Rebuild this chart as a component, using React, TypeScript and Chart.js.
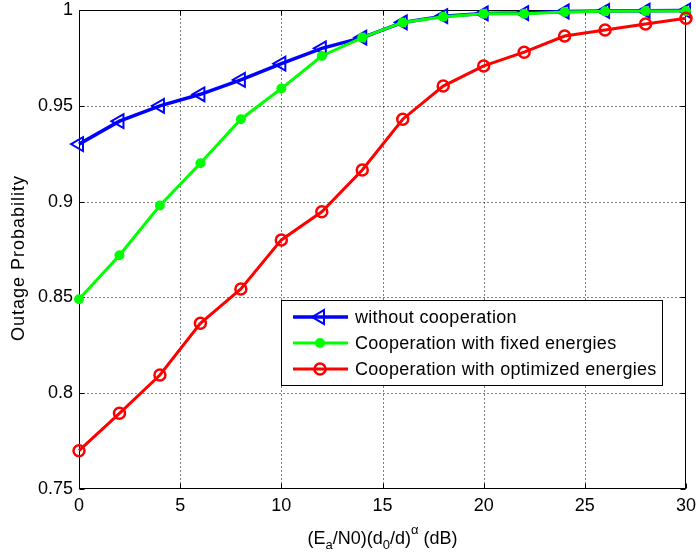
import React, { useEffect, useRef } from 'react';
import { Chart, registerables } from 'chart.js';

Chart.register(...registerables);

const snrDb = [0, 2, 4, 6, 8, 10, 12, 14, 16, 18, 20, 22, 24, 26, 28, 30];
const withoutCoop = [0.930, 0.942, 0.950, 0.956, 0.9635, 0.972, 0.980, 0.9856, 0.9935, 0.9968, 0.9982, 0.9984, 0.9992, 0.9995, 0.9996, 0.9997];
const coopFixed = [0.849, 0.872, 0.898, 0.920, 0.943, 0.959, 0.976, 0.9856, 0.9935, 0.9965, 0.998, 0.998, 0.999, 0.9993, 0.9995, 0.9995];
const coopOptimized = [0.770, 0.7895, 0.8095, 0.8365, 0.8544, 0.880, 0.8947, 0.9165, 0.943, 0.9603, 0.9708, 0.978, 0.9864, 0.9896, 0.9927, 0.9957];
const xTicks = [0, 5, 10, 15, 20, 25, 30];
const yTicks = [0.75, 0.8, 0.85, 0.9, 0.95, 1];
const seriesNames = ['without cooperation', 'Cooperation with fixed energies', 'Cooperation with optimized energies'];
const yTitle = 'Outage Probability';

const FONT = '"Liberation Sans", Arial, Helvetica, sans-serif';
const BLUE = '#0000ff';
const GREEN = '#00ff00';
const RED = '#ff0000';

function toPts(ys: number[]) {
  return ys.map((v, i) => ({ x: snrDb[i], y: v }));
}

const framePlugin = {
  id: 'matlabFrame',
  beforeDatasetsDraw(chart: any) {
    const { ctx, chartArea, scales } = chart;
    const { left, right, top, bottom } = chartArea;
    const xs = scales.x, ys = scales.y;
    const L = Math.round(left) + 0.5, R = Math.round(right) - 0.5;
    const T = Math.round(top) + 0.5, B = Math.round(bottom) - 0.5;
    ctx.save();
    ctx.strokeStyle = '#000';
    ctx.lineWidth = 1;
    ctx.setLineDash([1, 3]);
    xTicks.forEach((v) => {
      if (v === xTicks[0] || v === xTicks[xTicks.length - 1]) return;
      const px = Math.round(xs.getPixelForValue(v)) + 0.5;
      ctx.beginPath(); ctx.moveTo(px, T); ctx.lineTo(px, B); ctx.stroke();
    });
    yTicks.forEach((v) => {
      if (v === yTicks[0] || v === yTicks[yTicks.length - 1]) return;
      const py = Math.round(ys.getPixelForValue(v)) + 0.5;
      ctx.beginPath(); ctx.moveTo(L, py); ctx.lineTo(R, py); ctx.stroke();
    });
    ctx.setLineDash([]);
    const tl = 5;
    xTicks.forEach((v) => {
      const px = Math.round(xs.getPixelForValue(v)) + 0.5;
      ctx.beginPath(); ctx.moveTo(px, B); ctx.lineTo(px, B - tl); ctx.stroke();
      ctx.beginPath(); ctx.moveTo(px, T); ctx.lineTo(px, T + tl); ctx.stroke();
    });
    yTicks.forEach((v) => {
      const py = Math.round(ys.getPixelForValue(v)) + 0.5;
      ctx.beginPath(); ctx.moveTo(L, py); ctx.lineTo(L + tl, py); ctx.stroke();
      ctx.beginPath(); ctx.moveTo(R, py); ctx.lineTo(R - tl, py); ctx.stroke();
    });
    ctx.strokeRect(L, T, R - L, B - T);
    ctx.restore();
  },
};

function drawTri(ctx: CanvasRenderingContext2D, x: number, y: number, r: number) {
  ctx.beginPath();
  for (let k = 0; k < 3; k++) {
    const a = -Math.PI / 2 + k * (2 * Math.PI / 3);
    const px = x + Math.sin(a) * r;
    const py = y - Math.cos(a) * r;
    if (k === 0) ctx.moveTo(px, py); else ctx.lineTo(px, py);
  }
  ctx.closePath();
}

const textPlugin = {
  id: 'texts',
  afterDraw(chart: any) {
    const { ctx, chartArea } = chart;
    ctx.save();
    // Legend
    const bx = 281, by = 300, bw = 381, bh = 85;
    ctx.fillStyle = '#fff';
    ctx.fillRect(bx, by, bw, bh);
    ctx.strokeStyle = '#000';
    ctx.lineWidth = 1;
    ctx.strokeRect(bx + 0.5, by + 0.5, bw, bh);
    const rows = [317, 343, 369];
    const colors = [BLUE, GREEN, RED];
    rows.forEach((ry, i) => {
      ctx.strokeStyle = colors[i];
      ctx.lineWidth = i === 0 ? 3.5 : 3;
      ctx.beginPath(); ctx.moveTo(293, ry); ctx.lineTo(348, ry); ctx.stroke();
      if (i === 0) {
        ctx.lineWidth = 2;
        drawTri(ctx, 320, ry, 8);
        ctx.stroke();
      } else if (i === 1) {
        ctx.fillStyle = GREEN;
        ctx.beginPath(); ctx.arc(320, ry, 5, 0, Math.PI * 2); ctx.fill();
      } else {
        ctx.lineWidth = 2.5;
        ctx.beginPath(); ctx.arc(320, ry, 5.5, 0, Math.PI * 2); ctx.stroke();
      }
      ctx.fillStyle = '#000';
      ctx.font = `18px ${FONT}`;
      (ctx as any).letterSpacing = '0.3px';
      ctx.textBaseline = 'middle';
      ctx.textAlign = 'left';
      ctx.fillText(seriesNames[i], 355, ry + 1);
      (ctx as any).letterSpacing = '0px';
    });

    // Y title
    ctx.save();
    ctx.translate(24, 258);
    ctx.rotate(-Math.PI / 2);
    ctx.font = `18px ${FONT}`;
    (ctx as any).letterSpacing = '1px';
    ctx.fillStyle = '#000';
    ctx.textAlign = 'center';
    ctx.textBaseline = 'alphabetic';
    ctx.fillText(yTitle, 0, 0);
    (ctx as any).letterSpacing = '0px';
    ctx.restore();

    // X title with sub/superscripts
    const parts: [string, number][] = [
      ['(E', 0], ['a', 1], ['/N0)(d', 0], ['0', 1], ['/d)', 0], ['\u03B1', -1], [' (dB)', 0],
    ];
    const fontFor = (k: number) => (k === 0 ? `18px ${FONT}` : `13px ${FONT}`);
    let total = 0;
    parts.forEach(([s, k]) => { ctx.font = fontFor(k); total += ctx.measureText(s).width; });
    let cx = (chartArea.left + chartArea.right) / 2 - total / 2;
    const base = 544;
    ctx.textAlign = 'left';
    ctx.textBaseline = 'alphabetic';
    ctx.fillStyle = '#000';
    parts.forEach(([s, k]) => {
      ctx.font = fontFor(k);
      const dy = k === 1 ? 5 : k === -1 ? -10 : 0;
      ctx.fillText(s, cx, base + dy);
      cx += ctx.measureText(s).width;
    });
    ctx.restore();
  },
};

export default function App() {
  const ref = useRef<HTMLCanvasElement | null>(null);
  useEffect(() => {
    document.body.style.margin = '0';
    const canvas = ref.current!;
    const chart = new Chart(canvas, {
      type: 'line',
      data: {
        datasets: [
          {
            label: seriesNames[0],
            data: toPts(withoutCoop),
            borderColor: BLUE,
            borderWidth: 3.5,
            pointStyle: 'triangle',
            pointRotation: -90,
            pointRadius: 8,
            pointBorderWidth: 2,
            pointBorderColor: BLUE,
            pointBackgroundColor: 'rgba(0,0,0,0)',
            fill: false,
            tension: 0,
            clip: false,
            order: 3,
          } as any,
          {
            label: seriesNames[1],
            data: toPts(coopFixed),
            borderColor: GREEN,
            borderWidth: 3,
            pointStyle: 'circle',
            pointRadius: 5,
            pointBorderWidth: 0,
            pointBackgroundColor: GREEN,
            fill: false,
            tension: 0,
            clip: false,
            order: 2,
          } as any,
          {
            label: seriesNames[2],
            data: toPts(coopOptimized),
            borderColor: RED,
            borderWidth: 3,
            pointStyle: 'circle',
            pointRadius: 5.5,
            pointBorderWidth: 2.5,
            pointBorderColor: RED,
            pointBackgroundColor: 'rgba(0,0,0,0)',
            fill: false,
            tension: 0,
            clip: false,
            order: 1,
          } as any,
        ],
      },
      options: {
        animation: false,
        responsive: false,
        devicePixelRatio: 1,
        layout: { padding: { top: 10, right: 9, left: 0, bottom: 0 } },
        plugins: { legend: { display: false }, tooltip: { enabled: false } },
        scales: {
          x: {
            type: 'linear',
            min: 0,
            max: 30,
            afterBuildTicks: (s: any) => { s.ticks = xTicks.map((v) => ({ value: v })); },
            afterFit: (s: any) => { s.height = 65; s.paddingLeft = 0; s.paddingRight = 0; },
            grid: { display: false, drawTicks: false },
            border: { display: false },
            ticks: { color: '#000', font: { family: FONT, size: 18 }, padding: 6, maxRotation: 0, autoSkip: false,
              callback: (v: any) => String(v) },
          },
          y: {
            type: 'linear',
            min: 0.75,
            max: 1,
            afterBuildTicks: (s: any) => { s.ticks = yTicks.map((v) => ({ value: v })); },
            afterFit: (s: any) => { s.width = 79; s.paddingTop = 0; s.paddingBottom = 0; },
            grid: { display: false, drawTicks: false },
            border: { display: false },
            ticks: { color: '#000', font: { family: FONT, size: 18 }, padding: 6, autoSkip: false,
              callback: (v: any) => String(Number(Number(v).toFixed(2))) },
          },
        },
      },
      plugins: [framePlugin, textPlugin],
    });
    return () => chart.destroy();
  }, []);
  return (
    <div style={{ position: 'fixed', left: 0, top: 0, width: 696, height: 554, background: '#fff' }}>
      <canvas ref={ref} width={696} height={554} style={{ display: 'block', width: 696, height: 554 }} />
    </div>
  );
}
